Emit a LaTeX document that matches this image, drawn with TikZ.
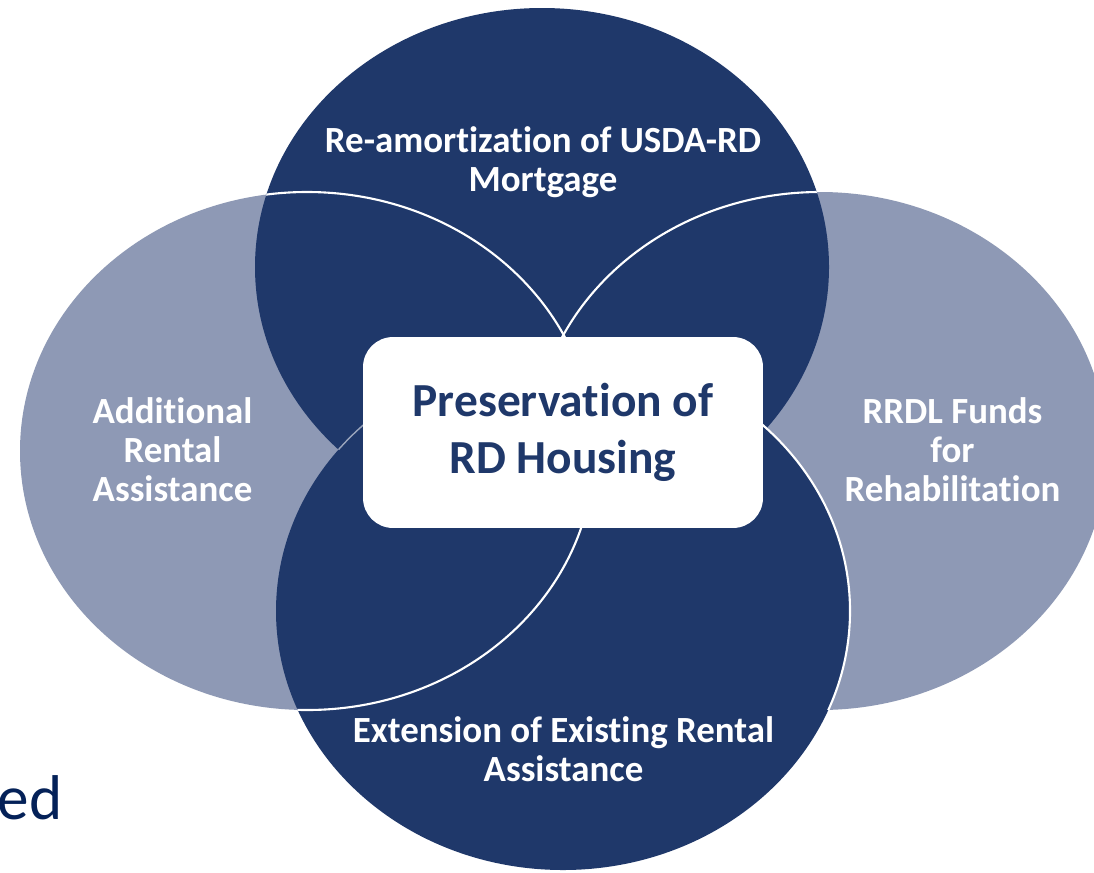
\documentclass[tikz,border=0pt]{standalone}
\usepackage{fontspec}
\setmainfont[Ligatures=NoCommon]{Carlito}

\definecolor{rdnavy}{RGB}{31,56,106}
\definecolor{rdslate}{RGB}{142,153,181}
\definecolor{rdink}{RGB}{4,33,88}

\begin{document}
\begin{tikzpicture}[
    x=0.02cm, y=-0.02cm,
    lobe/.style={fill=rdslate},
    ring/.style={fill=rdnavy},
    seam/.style={draw=white, line width=1.2pt},
    faint/.style={draw=white!55!rdnavy, line width=0.8pt},
    tag/.style={text=white, align=center, inner sep=0pt,
                font=\bfseries\fontsize{21}{22.2}\selectfont},
    hub/.style={fill=white, rounded corners=0.6cm, minimum width=8cm,
                minimum height=3.82cm, align=center, text=rdnavy,
                font=\bfseries\fontsize{27}{32.3}\selectfont}
  ]
  \fill[white] (0,0) rectangle (1094,872);
  \useasboundingbox (0,0) rectangle (1094,872);

  % centres of the four lobes
  \coordinate (top) at (542,267);
  \coordinate (bot) at (563,611);
  \coordinate (lft) at (307,451);
  \coordinate (rgt) at (820,451);

  % side lobes first, then the two dark rings over them
  \fill[lobe] (lft) ellipse [x radius=287, y radius=259];
  \fill[lobe] (rgt) ellipse [x radius=287, y radius=259];
  \fill[ring] (top) ellipse [x radius=287, y radius=259];
  \fill[ring] (bot) ellipse [x radius=287, y radius=259];

  % white seams where one outline crosses a dark ring
  \begin{scope}
    \clip (top) ellipse [x radius=287, y radius=259];
    \draw[faint] (bot) ellipse [x radius=287, y radius=259];
    \draw[seam] (lft) ellipse [x radius=287, y radius=259];
    \draw[seam] (rgt) ellipse [x radius=287, y radius=259];
  \end{scope}
  \begin{scope}
    \clip (bot) ellipse [x radius=287, y radius=259];
    \draw[seam] (lft) ellipse [x radius=287, y radius=259];
  \end{scope}
  \begin{scope}
    \clip (rgt) ellipse [x radius=287, y radius=259];
    \draw[seam] (bot) ellipse [x radius=287, y radius=259];
  \end{scope}

  % labels
  \node[tag] (amort) at (543,162) {Re-amortization of USDA-RD\\Mortgage};
  \node[tag] (extra) at (172.5,449.5) {Additional\\Rental\\Assistance};
  \node[tag] (rrdl) at (952.5,449.5) {RRDL Funds\\for\\Rehabilitation};
  \node[tag] (extend) at (563.5,749) {Extension of Existing Rental\\Assistance};

  \node[hub] (core) at (563,432.5) {Preservation of\\RD Housing};

  \node[text=rdink, inner sep=0pt, anchor=base east,
        font=\fontsize{36}{43}\selectfont] (ed) at (63,819) {ed};
\end{tikzpicture}
\end{document}
